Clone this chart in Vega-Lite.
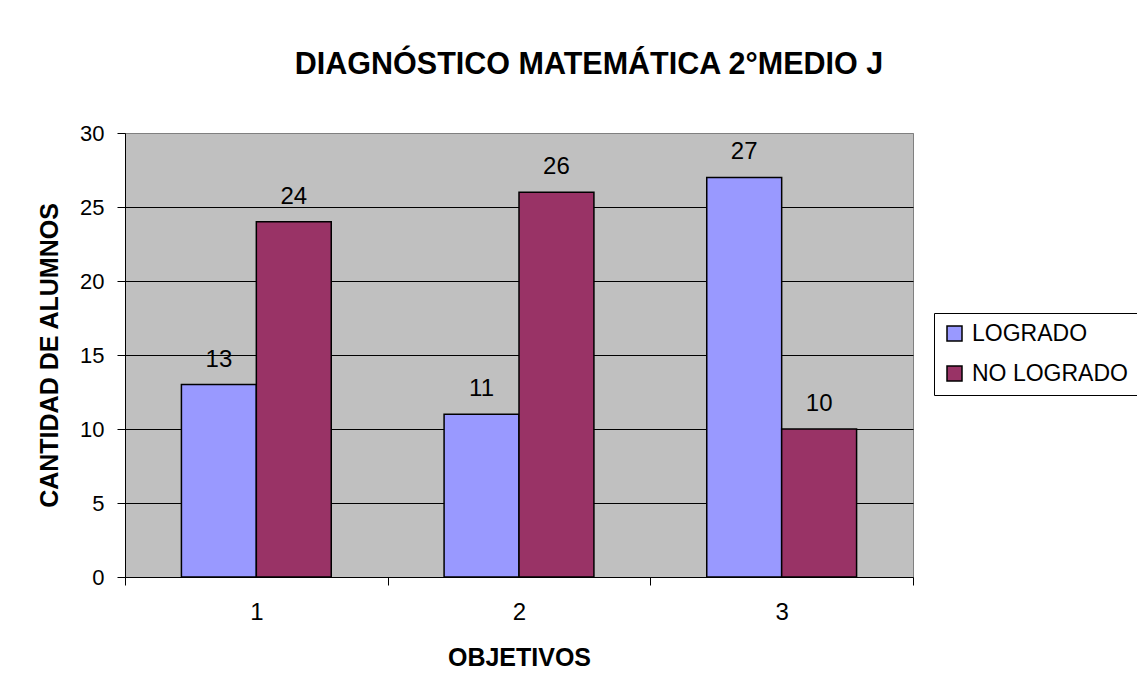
{
  "$schema": "https://vega.github.io/schema/vega-lite/v6.json",
  "autosize": "none",
  "width": 788,
  "height": 444,
  "padding": {"left": 125, "top": 133, "right": 224, "bottom": 120},
  "background": "white",
  "title": {
    "text": "DIAGNÓSTICO MATEMÁTICA 2°MEDIO J",
    "font": "Liberation Sans",
    "fontSize": 30.5,
    "fontWeight": "bold",
    "color": "black",
    "anchor": "middle",
    "frame": "group",
    "dx": 70,
    "offset": 42
  },
  "data": {
    "values": [
      {"objetivo": "1", "serie": "LOGRADO", "cantidad": 13},
      {"objetivo": "1", "serie": "NO LOGRADO", "cantidad": 24},
      {"objetivo": "2", "serie": "LOGRADO", "cantidad": 11},
      {"objetivo": "2", "serie": "NO LOGRADO", "cantidad": 26},
      {"objetivo": "3", "serie": "LOGRADO", "cantidad": 27},
      {"objetivo": "3", "serie": "NO LOGRADO", "cantidad": 10}
    ]
  },
  "encoding": {
    "x": {
      "field": "objetivo",
      "type": "nominal",
      "scale": {"paddingInner": 0, "paddingOuter": 0},
      "axis": {
        "title": "OBJETIVOS",
        "labelAngle": 0,
        "labelFont": "Liberation Sans",
        "labelFontSize": 24,
        "labelColor": "black",
        "labelPadding": 15,
        "tickBand": "extent",
        "tickSize": 8,
        "tickColor": "black",
        "domainColor": "black",
        "titleFont": "Liberation Sans",
        "titleFontSize": 25,
        "titleFontWeight": "bold",
        "titleColor": "black",
        "titlePadding": 21
      }
    },
    "xOffset": {
      "field": "serie",
      "type": "nominal",
      "scale": {"paddingInner": 0, "paddingOuter": 0.753}
    },
    "y": {
      "field": "cantidad",
      "type": "quantitative",
      "scale": {"domain": [0, 30], "nice": false},
      "axis": {
        "title": "CANTIDAD DE ALUMNOS",
        "values": [0, 5, 10, 15, 20, 25, 30],
        "labelFont": "Liberation Sans",
        "labelFontSize": 22,
        "labelColor": "black",
        "labelPadding": 13,
        "tickSize": 8,
        "tickColor": "black",
        "domainColor": "black",
        "grid": true,
        "gridColor": {"condition": {"test": "datum.value == 30 || datum.value == 0", "value": "#808080"}, "value": "black"},
        "titleFont": "Liberation Sans",
        "titleFontSize": 25,
        "titleFontWeight": "bold",
        "titleColor": "black",
        "titlePadding": 17
      }
    }
  },
  "layer": [
    {
      "mark": {"type": "bar", "stroke": "black", "strokeWidth": 1.5},
      "encoding": {
        "color": {
          "field": "serie",
          "type": "nominal",
          "scale": {"domain": ["LOGRADO", "NO LOGRADO"], "range": ["#9999FF", "#993366"]},
          "legend": {
            "title": null,
            "orient": "none",
            "legendX": 809,
            "legendY": 180,
            "padding": 9,
            "strokeColor": "black",
            "fillColor": "white",
            "symbolType": "square",
            "symbolSize": 225,
            "symbolStrokeColor": "black",
            "symbolStrokeWidth": 1.5,
            "symbolOpacity": 1,
            "labelFont": "Liberation Sans",
            "labelFontSize": 23,
            "labelColor": "black",
            "labelOffset": 6,
            "rowPadding": 16,
            "labelLimit": 400
          }
        }
      }
    },
    {
      "mark": {
        "type": "text",
        "font": "Liberation Sans",
        "fontSize": 24,
        "color": "black",
        "baseline": "alphabetic",
        "dy": -18
      },
      "encoding": {
        "text": {"field": "cantidad", "type": "quantitative"}
      }
    }
  ],
  "config": {
    "view": {"fill": "#C0C0C0", "stroke": "#808080", "strokeWidth": 1}
  }
}
